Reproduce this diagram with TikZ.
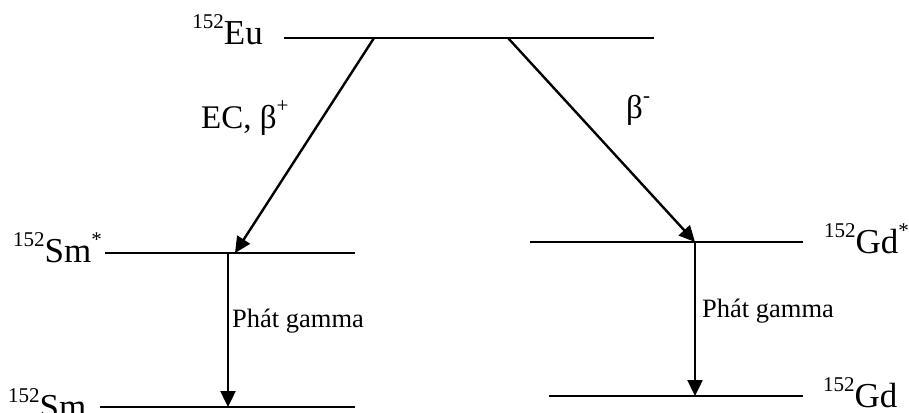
\documentclass[tikz,border=0pt]{standalone}
\usepackage{fontspec}
\setmainfont{Liberation Serif}
\usetikzlibrary{arrows.meta}
\newcommand\isotop[1]{\raisebox{16pt}{\fontsize{21}{21}\selectfont #1}}
\begin{document}
\begin{tikzpicture}[x=1pt,y=-1pt,
  level/.style={line width=2pt},
  decay/.style={line width=2.4pt,-{Triangle[length=16pt,width=15pt]}},
  isolabel/.style={inner sep=0pt,font=\fontsize{35}{38}\selectfont},
  declabel/.style={inner sep=0pt,font=\fontsize{33}{36}\selectfont},
  gammalabel/.style={inner sep=0pt,font=\fontsize{26.5}{30}\selectfont}]
\useasboundingbox (0,0) rectangle (909,412);
% level end points
\coordinate (euL) at (284,38);  \coordinate (euR) at (654,38);
\coordinate (smsL) at (105,253); \coordinate (smsR) at (355,253);
\coordinate (smL) at (100,407);  \coordinate (smR) at (355,407);
\coordinate (gdsL) at (530,242); \coordinate (gdsR) at (803,242);
\coordinate (gdL) at (549,396);  \coordinate (gdR) at (803,396);
% transition end points
\coordinate (ecS) at (374,38);  \coordinate (ecE) at (235,253);
\coordinate (bmS) at (508,38);  \coordinate (bmE) at (695,242);
\coordinate (gaL1) at (228,253); \coordinate (gaL2) at (228,407);
\coordinate (gaR1) at (695,242); \coordinate (gaR2) at (695,396);
% levels
\draw[level] (euL) -- (euR);
\draw[level] (smsL) -- (smsR);
\draw[level] (smL) -- (smR);
\draw[level] (gdsL) -- (gdsR);
\draw[level] (gdL) -- (gdR);
% transitions
\draw[decay] (ecS) -- (ecE);
\draw[decay] (bmS) -- (bmE);
\draw[decay] (gaL1) -- (gaL2);
\draw[decay] (gaR1) -- (gaR2);
% labels
\node[isolabel,anchor=base east] (eu) at (263,45) {\isotop{152}Eu};
\node[isolabel,anchor=base east] (sms) at (102,262) {\isotop{152}Sm\isotop{*}};
\node[isolabel,anchor=base west] (sm) at (8,418) {\isotop{152}Sm};
\node[isolabel,anchor=base west] (gds) at (824,253) {\isotop{152}Gd\isotop{*}};
\node[isolabel,anchor=base west] (gd) at (823,407) {\isotop{152}Gd};
\node[declabel,anchor=base west] (ec) at (201,128) {EC, β\isotop{+}};
\node[declabel,anchor=base west] (bm) at (626,118) {β\isotop{-}};
\node[gammalabel,anchor=base west] (gl) at (232,327) {Phát gamma};
\node[gammalabel,anchor=base west] (gr) at (702,317) {Phát gamma};
\end{tikzpicture}
\end{document}
